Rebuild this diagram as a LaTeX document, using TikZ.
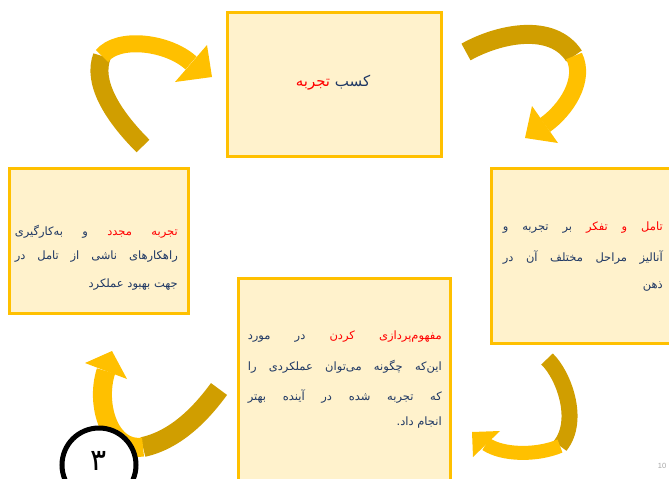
\documentclass[tikz,border=0pt]{standalone}
\usepackage{fontspec}
\setmainfont{DejaVu Sans}
\newfontfamily\fa[Script=Arabic,Color=1F3864]{DejaVu Sans}
\newfontfamily\fared[Script=Arabic,Color=FF0000]{DejaVu Sans}
\newfontfamily\fablack[Script=Arabic]{DejaVu Sans}
\newfontfamily\lat{Liberation Sans}
\TeXXeTstate=1
\definecolor{boxfill}{HTML}{FFF2CC}
\definecolor{gold}{HTML}{FFC000}
\definecolor{darkgold}{HTML}{D09E00}
\definecolor{pagegray}{HTML}{A6A6A6}
\newcommand{\redw}[1]{{\fared #1}}
\begin{document}
\begin{tikzpicture}[x=1pt,y=-1pt,
  boxst/.style={draw=gold, line width=3pt, fill=boxfill, inner sep=0pt},
  txt/.style={inner sep=0pt, font=\fontsize{11.5}{13}\selectfont\fa},
  ribd/.style={draw=darkgold, line width=#1},
  ribl/.style={draw=gold, line width=#1},
  headst/.style={fill=gold}]
\clip (0,0) rectangle (669,479);
% boxes
\node[boxst, minimum width=214pt, minimum height=144pt] (topbox) at (334,84) {};
\node[boxst, minimum width=179pt, minimum height=145pt] (leftbox) at (98.5,240.5) {};
\node[boxst, minimum width=189pt, minimum height=175pt] (rightbox) at (585.5,255.5) {};
\node[boxst, minimum width=212pt, minimum height=212pt] (botbox) at (344,384) {};
% texts
\node[txt, font=\fontsize{15}{17}\selectfont\fa] (toptext) at (333,83) {\hbox{\beginR کسب \redw{تجربه}\endR}};
\node[txt, anchor=east] (lt1) at (178,232) {\hbox to 163pt{\beginR \redw{تجربه} \redw{مجدد} و به^^^^200cکارگیری\endR}};
\node[txt, anchor=east] (lt2) at (178,257) {\hbox to 163pt{\beginR راهکارهای ناشی از تامل در\endR}};
\node[txt, anchor=east] (lt3) at (178,285) {\hbox{\beginR جهت بهبود عملکرد\endR}};
\node[txt, anchor=east] (rt1) at (663,228) {\hbox to 160pt{\beginR \redw{تامل} \redw{و} \redw{تفکر} بر تجربه و\endR}};
\node[txt, anchor=east] (rt2) at (663,258) {\hbox to 160pt{\beginR آنالیز مراحل مختلف آن در\endR}};
\node[txt, anchor=east] (rt3) at (663,287) {\hbox{\beginR ذهن\endR}};
\node[txt, anchor=east] (bt1) at (442,337) {\hbox to 194pt{\beginR \redw{مفهوم^^^^200cپردازی} \redw{کردن} در مورد\endR}};
\node[txt, anchor=east] (bt2) at (442,367) {\hbox to 194pt{\beginR این^^^^200cکه چگونه می^^^^200cتوان عملکردی را\endR}};
\node[txt, anchor=east] (bt3) at (442,396) {\hbox to 194pt{\beginR که تجربه شده در آینده بهتر\endR}};
\node[txt, anchor=east] (bt4) at (442,423) {\hbox{\beginR انجام داد\hbox{.}\endR}};
% arrow 1 (top-left)
\coordinate (a1t) at (143,146);
\coordinate (a1m) at (102,56);
\coordinate (a1b) at (191,63);
\coordinate (a1p) at (212,77);
\coordinate (a1l) at (207,45);
\coordinate (a1r) at (175,82);
\draw[ribd=18pt] (a1t) .. controls (112,115) and (92,82) .. (a1m);
\draw[ribl=17pt] (a1m) .. controls (118,36) and (168,42) .. (a1b);
\fill[headst] (a1l) -- (a1p) -- (a1r) -- cycle;
% arrow 2 (top-right)
\coordinate (a2t) at (466,52);
\coordinate (a2m) at (574,56);
\coordinate (a2b) at (545,125);
\coordinate (a2p) at (525,138);
\coordinate (a2l) at (532,106);
\coordinate (a2r) at (558,143);
\draw[ribd=19pt] (a2t) .. controls (498,34) and (552,22) .. (a2m);
\draw[ribl=17pt] (a2m) .. controls (586,80) and (566,110) .. (a2b);
\fill[headst] (a2l) -- (a2p) -- (a2r) -- cycle;
% arrow 3 (bottom-right)
\coordinate (a3t) at (547,359);
\coordinate (a3m) at (560,446);
\coordinate (a3b) at (486,444);
\coordinate (a3p) at (472,432);
\coordinate (a3l) at (500,431);
\coordinate (a3r) at (473,457);
\draw[ribd=16pt] (a3t) .. controls (563,374) and (581,420) .. (a3m);
\draw[ribl=14pt] (a3m) .. controls (536,456) and (502,455) .. (a3b);
\fill[headst] (a3l) -- (a3p) -- (a3r) -- cycle;
% arrow 4 (bottom-left)
\coordinate (a4t) at (219,389);
\coordinate (a4m) at (143,447);
\coordinate (a4b) at (106,371);
\coordinate (a4p) at (112,351);
\coordinate (a4l) at (85,363);
\coordinate (a4r) at (127,379);
\draw[ribd=20pt] (a4t) .. controls (200,415) and (175,440) .. (a4m);
\draw[ribl=19pt] (a4m) .. controls (110,452) and (95,405) .. (a4b);
\fill[headst] (a4l) -- (a4p) -- (a4r) -- cycle;
% number circle and page number
\node[circle, draw=black, line width=5pt, fill=white, minimum size=74pt, inner sep=0pt] (numcircle) at (99,465) {};
\node[inner sep=0pt, font=\fontsize{30}{32}\selectfont\fablack] (num) at (99,461) {۳};
\node[font=\lat\fontsize{7.5}{9}\selectfont, text=pagegray, inner sep=0pt] (pg) at (662,466) {10};
\end{tikzpicture}
\end{document}
